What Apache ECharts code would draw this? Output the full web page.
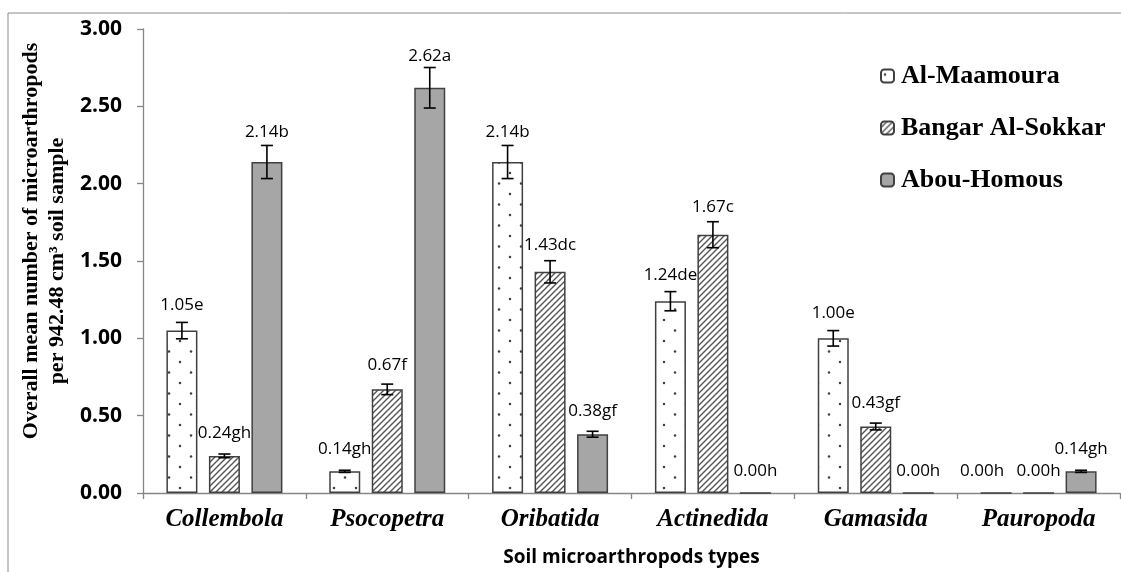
<!DOCTYPE html>
<html>
<head>
<meta charset="utf-8">
<script src="https://cdn.jsdelivr.net/npm/echarts@6/dist/echarts.min.js"></script>
<style>html,body{margin:0;padding:0;background:#fff;}#c{width:1121px;height:572px;}</style>
</head>
<body>
<div id="c"></div>
<script>
// ---- data ----
const categories = ['Collembola', 'Psocopetra', 'Oribatida', 'Actinedida', 'Gamasida', 'Pauropoda'];
const seriesNames = ['Al-Maamoura', 'Bangar Al-Sokkar', 'Abou-Homous'];
const maamouraValues = [1.05, 0.14, 2.14, 1.24, 1.00, 0.00];
const bangarValues   = [0.24, 0.67, 1.43, 1.67, 0.43, 0.00];
const abouValues     = [2.14, 2.62, 0.38, 0.00, 0.00, 0.14];
const maamouraErrors = [0.053, 0.007, 0.107, 0.062, 0.050, 0.000];
const bangarErrors   = [0.012, 0.034, 0.072, 0.084, 0.022, 0.000];
const abouErrors     = [0.107, 0.131, 0.019, 0.000, 0.000, 0.007];
const maamouraLetters = ['e', 'gh', 'b', 'de', 'e', 'h'];
const bangarLetters   = ['gh', 'f', 'dc', 'c', 'gf', 'h'];
const abouLetters     = ['b', 'a', 'gf', 'h', 'h', 'gh'];
const yTicks = [0, 0.5, 1, 1.5, 2, 2.5, 3];

// ---- patterns ----
function dotPattern() {
  const c = document.createElement('canvas');
  c.width = 22; c.height = 21;
  const g = c.getContext('2d');
  g.fillStyle = '#ffffff'; g.fillRect(0, 0, 22, 21);
  g.fillStyle = '#404040';
  g.beginPath(); g.arc(4, 5, 1.25, 0, Math.PI * 2); g.fill();
  g.beginPath(); g.arc(15, 15.5, 1.25, 0, Math.PI * 2); g.fill();
  return c;
}
function hatchPattern() {
  const s = 6;
  const c = document.createElement('canvas');
  c.width = s; c.height = s;
  const g = c.getContext('2d');
  g.fillStyle = '#ffffff'; g.fillRect(0, 0, s, s);
  g.strokeStyle = '#555555'; g.lineWidth = 1.4;
  g.beginPath();
  g.moveTo(-1, s + 1); g.lineTo(s + 1, -1);
  g.moveTo(-1, 1); g.lineTo(1, -1);
  g.moveTo(s - 1, s + 1); g.lineTo(s + 1, s - 1);
  g.stroke();
  return c;
}

const fills = [
  { image: dotPattern(), repeat: 'repeat' },
  { image: hatchPattern(), repeat: 'repeat' },
  '#a6a6a6'
];
const valuesList = [maamouraValues, bangarValues, abouValues];
const errorsList = [maamouraErrors, bangarErrors, abouErrors];
const lettersList = [maamouraLetters, bangarLetters, abouLetters];

const barW = 31, step = 42.5;

const series = [];
seriesNames.forEach((name, s) => {
  series.push({
    name: name,
    type: 'bar',
    data: valuesList[s],
    barWidth: barW,
    barGap: ((step - barW) / barW * 100) + '%',
    itemStyle: { color: fills[s], borderColor: '#404040', borderWidth: 1.5 },
    emphasis: { disabled: true },
    z: 2
  });
});
seriesNames.forEach((name, s) => {
  const data = categories.map((c, i) => [i, valuesList[s][i], errorsList[s][i], valuesList[s][i].toFixed(2) + lettersList[s][i]]);
  series.push({
    type: 'custom',
    name: name + ' err',
    data: data,
    encode: { x: 0, y: 1 },
    z: 5,
    silent: true,
    renderItem: function (params, api) {
      const idx = api.value(0), v = api.value(1), e = api.value(2);
      const p = api.coord([idx, v]);
      const x = p[0] + (s - 1) * step;
      const yTop = api.coord([idx, v + e])[1];
      const yBot = api.coord([idx, v - e])[1];
      const children = [];
      if (e > 0) {
        const cap = 6;
        const ls = { stroke: '#000', lineWidth: 1.6 };
        children.push({ type: 'line', shape: { x1: x, y1: yTop, x2: x, y2: yBot }, style: ls });
        children.push({ type: 'line', shape: { x1: x - cap, y1: yTop, x2: x + cap, y2: yTop }, style: ls });
        children.push({ type: 'line', shape: { x1: x - cap, y1: yBot, x2: x + cap, y2: yBot }, style: ls });
      }
      // Excel nudged the label of the first zero bar in the last group to the left to avoid overlap
      const nudge = (s === 0 && idx === categories.length - 1) ? -14 : 0;
      const labelY = p[1] - 22 - 0.45 * (p[1] - yTop);
      children.push({
        type: 'text',
        style: {
          x: x + nudge, y: labelY,
          text: data[params.dataIndex][3],
          align: 'center', verticalAlign: 'middle',
          font: '17px "Open Sans"', fill: '#000'
        }
      });
      return { type: 'group', children: children };
    }
  });
});

const chart = echarts.init(document.getElementById('c'), null, { renderer: 'canvas' });
chart.setOption({
  animation: false,
  backgroundColor: '#ffffff',
  grid: { left: 143, right: 1, top: 29, bottom: 75, containLabel: false },
  legend: {
    data: seriesNames,
    orient: 'vertical',
    left: 875, top: 58,
    itemWidth: 13, itemHeight: 13, itemGap: 26,
    selectedMode: false,
    textStyle: { fontFamily: '"Liberation Serif"', fontWeight: 'bold', fontSize: 26, color: '#000', padding: [0, 0, 0, 2] }
  },
  xAxis: {
    type: 'category',
    data: categories,
    axisLine: { lineStyle: { color: '#868686', width: 1.3 } },
    axisTick: { show: true, length: 6, lineStyle: { color: '#868686', width: 1.3 } },
    axisLabel: { margin: 14, fontFamily: '"Liberation Serif"', fontStyle: 'italic', fontWeight: 'bold', fontSize: 25, color: '#000' },
    name: 'Soil microarthropods types',
    nameLocation: 'middle',
    nameGap: 55,
    nameTextStyle: { fontFamily: '"Open Sans"', fontWeight: 'bold', fontSize: 19, color: '#000' }
  },
  yAxis: {
    type: 'value',
    min: yTicks[0], max: yTicks[yTicks.length - 1], interval: 0.5,
    splitLine: { show: false },
    axisLine: { show: true, lineStyle: { color: '#868686', width: 1.3 } },
    axisTick: { show: true, length: 6, lineStyle: { color: '#868686', width: 1.3 } },
    axisLabel: { margin: 21, formatter: v => v.toFixed(2), fontFamily: '"Open Sans"', fontWeight: 'bold', fontSize: 21, color: '#000' }
  },
  graphic: [
    { type: 'rect', shape: { x: 8, y: 13, width: 1200, height: 700 }, style: { fill: 'none', stroke: '#8c8c8c', lineWidth: 1 }, silent: true, z: -1 },
    { type: 'text', x: 31, y: 241, rotation: Math.PI / 2, style: { text: 'Overall mean number of microarthropods', align: 'center', verticalAlign: 'middle', font: 'bold 22px "Liberation Serif"', fill: '#000' } },
    { type: 'text', x: 57, y: 261, rotation: Math.PI / 2, style: { text: 'per 942.48 cm\u00B3 soil sample', align: 'center', verticalAlign: 'middle', font: 'bold 22px "Liberation Serif"', fill: '#000' } }
  ],
  series: series
});
</script>
</body>
</html>
